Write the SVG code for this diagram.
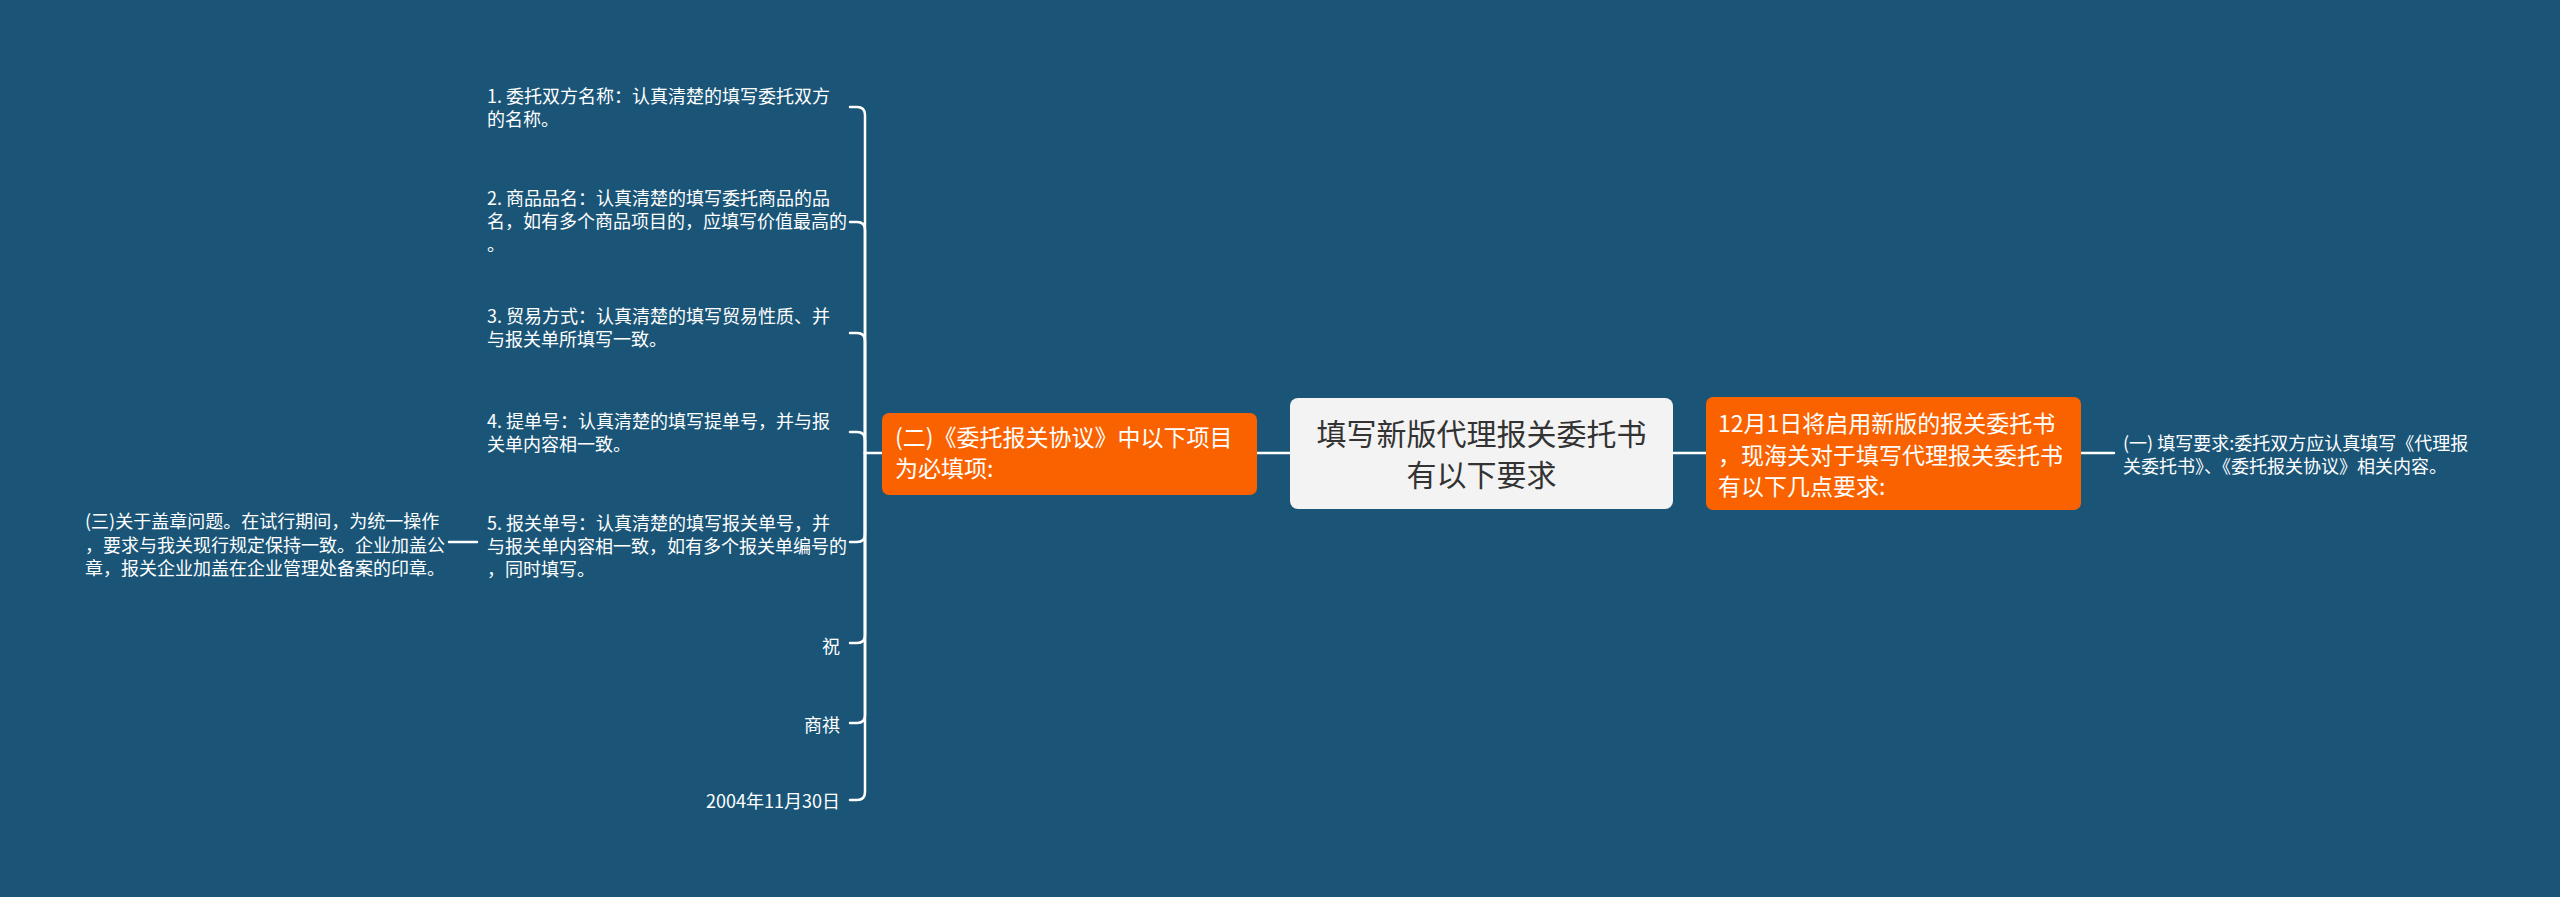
<svg xmlns="http://www.w3.org/2000/svg" width="2560" height="897" viewBox="0 0 2560 897">
<style>
.t{font-family:"Noto Sans CJK SC","Microsoft YaHei",sans-serif;fill:#ffffff}
.s{font-size:18px}
.o{font-size:23px}
.c{font-size:30px;fill:#333333}
.ln{fill:none;stroke:#ffffff;stroke-width:2.5;stroke-linecap:round}
.orange{fill:#fa6200}
</style>
<rect x="0" y="0" width="2560" height="897" fill="#1a5578"/>
<g id="connectors">
<path class="ln" d="M865 453 V115 Q865 107 857 107 H850"/>
<path class="ln" d="M865 453 V230 Q865 222 857 222 H850"/>
<path class="ln" d="M865 453 V341 Q865 333 857 333 H850"/>
<path class="ln" d="M865 453 V440 Q865 432 857 432 H850"/>
<path class="ln" d="M865 453 V534 Q865 542 857 542 H850"/>
<path class="ln" d="M865 453 V635 Q865 643 857 643 H850"/>
<path class="ln" d="M865 453 V715 Q865 723 857 723 H850"/>
<path class="ln" d="M865 453 V792 Q865 800 857 800 H850"/>
<path class="ln" d="M865 453 H882"/>
<path class="ln" d="M1257 453 H1290"/>
<path class="ln" d="M1673 453 H1706"/>
<path class="ln" d="M2081 453 H2114"/>
<path class="ln" d="M449 542 H477"/>
</g>
<g id="center">
<rect x="1290" y="398" width="383" height="111" rx="8" fill="#f3f3f3"/>
<text class="t c" text-anchor="middle"><tspan x="1481.5" y="445">填写新版代理报关委托书</tspan><tspan x="1481.5" y="486">有以下要求</tspan></text>
</g>
<g id="right-main">
<rect class="orange" x="1706" y="397" width="375" height="113" rx="7"/>
<text class="t o"><tspan x="1718" y="432">12月1日将启用新版的报关委托书</tspan><tspan x="1718" y="464">，现海关对于填写代理报关委托书</tspan><tspan x="1718" y="495">有以下几点要求:</tspan></text>
</g>
<g id="right-child">
<text class="t s"><tspan x="2123" y="450">(一) 填写要求:委托双方应认真填写《代理报</tspan><tspan x="2123" y="473">关委托书》、《委托报关协议》相关内容。</tspan></text>
</g>
<g id="left-main">
<rect class="orange" x="882" y="413" width="375" height="82" rx="7"/>
<text class="t o"><tspan x="895" y="446">(二)《委托报关协议》中以下项目</tspan><tspan x="895" y="477">为必填项:</tspan></text>
</g>
<g id="item1">
<text class="t s"><tspan x="487" y="103">1. 委托双方名称：认真清楚的填写委托双方</tspan><tspan x="487" y="126">的名称。</tspan></text>
</g>
<g id="item2">
<text class="t s"><tspan x="487" y="205">2. 商品品名：认真清楚的填写委托商品的品</tspan><tspan x="487" y="228">名，如有多个商品项目的，应填写价值最高的</tspan><tspan x="487" y="251">。</tspan></text>
</g>
<g id="item3">
<text class="t s"><tspan x="487" y="323">3. 贸易方式：认真清楚的填写贸易性质、并</tspan><tspan x="487" y="346">与报关单所填写一致。</tspan></text>
</g>
<g id="item4">
<text class="t s"><tspan x="487" y="428">4. 提单号：认真清楚的填写提单号，并与报</tspan><tspan x="487" y="451">关单内容相一致。</tspan></text>
</g>
<g id="item5">
<text class="t s"><tspan x="487" y="530">5. 报关单号：认真清楚的填写报关单号，并</tspan><tspan x="487" y="553">与报关单内容相一致，如有多个报关单编号的</tspan><tspan x="487" y="576">，同时填写。</tspan></text>
</g>
<g id="item5-child">
<text class="t s"><tspan x="85" y="528">(三)关于盖章问题。在试行期间，为统一操作</tspan><tspan x="85" y="552">，要求与我关现行规定保持一致。企业加盖公</tspan><tspan x="85" y="575">章，报关企业加盖在企业管理处备案的印章。</tspan></text>
</g>
<g id="item6">
<text class="t s" x="840" y="653" text-anchor="end">祝</text>
</g>
<g id="item7">
<text class="t s" x="840" y="732" text-anchor="end">商祺</text>
</g>
<g id="item8">
<text class="t s" x="840" y="808" text-anchor="end">2004年11月30日</text>
</g>
</svg>
